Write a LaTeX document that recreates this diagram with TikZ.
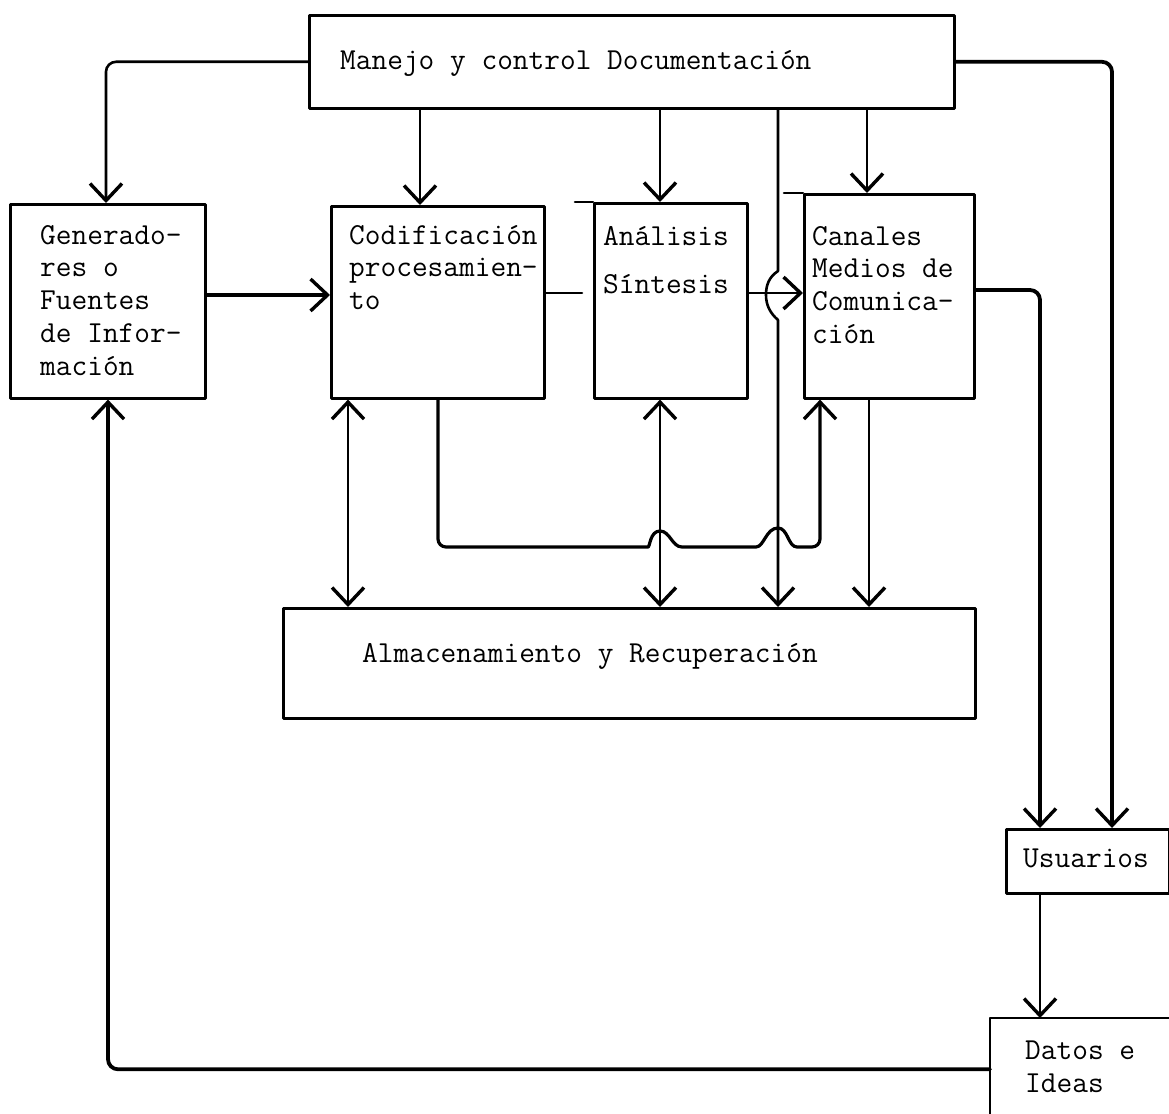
\documentclass[tikz,border=0pt]{standalone}
\usepackage{fontspec}
\usetikzlibrary{arrows.meta}
\begin{document}
\begin{tikzpicture}[x=1pt,y=-1pt,
  line cap=round, line join=round,
  box/.style={draw,line width=2.6pt,rectangle,inner sep=0pt,anchor=north west},
  lbl/.style={font=\ttfamily\fontsize{30.5}{32.8}\selectfont\addfontfeatures{FakeBold=1.4},anchor=base west,align=left,inner sep=0pt},
  ln/.style={line width=2.6pt},
  tk/.style={line width=3.8pt},
  barb/.tip={Straight Barb[length=17pt,width=32pt,line width=3.4pt]},
  arr/.style={-barb},
  darr/.style={barb-barb}]
\useasboundingbox (0,0) rectangle (1169,1113);

% helper coordinates
\foreach \x in {106,108,348,420,438,660,778,820,867,869,1040,1112}
  \coordinate (c\x) at (\x,0);
\foreach \y in {290,293,295}
  \coordinate (h\y) at (0,\y);

% boxes
\node[box,minimum width=645pt,minimum height=93pt]  (top) at (308,14) {};
\node[box,minimum width=195pt,minimum height=194pt] (gen) at (9,203) {};
\node[box,minimum width=213pt,minimum height=192pt] (cod) at (330,205) {};
\node[box,minimum width=153pt,minimum height=195pt] (ana) at (593,202) {};
\node[box,minimum width=170pt,minimum height=204pt] (can) at (803,193) {};
\node[box,minimum width=692pt,minimum height=110pt] (alm) at (282,607) {};
\node[box,minimum width=163pt,minimum height=64pt]  (usu) at (1005,828) {};
\node[box,draw=none,minimum width=200pt,minimum height=100pt] (dat) at (990,1018) {};
\draw[ln] (dat.north east) -- (dat.north west) -- (dat.south west);

% overshooting top bars
\draw[ln] (ana.north west) -- ++(-18,0);
\draw[ln] (can.north west) -- ++(-19,0);

% texts (base = baseline of the last line)
\node[lbl] (tTop) at (340,70) {Manejo y control Documentación};
\node[lbl] (tGen) at (40,375.2) {Generado-\\res o\\Fuentes\\de Infor-\\mación};
\node[lbl] (tCod) at (349,309.6) {Codificación\\procesamien-\\to};
\node[lbl] (tAna1) at (603,245) {Análisis};
\node[lbl] (tAna2) at (603,293) {Síntesis};
\node[lbl] (tCan) at (812,343.4) {Canales\\Medios de\\Comunica-\\ción};
\node[lbl] (tAlm) at (362,662) {Almacenamiento y Recuperación};
\node[lbl] (tUsu) at (1023,867) {Usuarios};
\node[lbl] (tDat) at (1025,1092) {Datos e\\Ideas};

% connectors from the top box
\draw[ln,arr,rounded corners=10pt] (top.west) -| (gen.north -| c106);
\draw[ln,arr] (top.south -| c420) -- (cod.north -| c420);
\draw[ln,arr] (top.south -| c660) -- (ana.north -| c660);
\draw[ln,arr] (top.south -| c867) -- (can.north -| c867);
\draw[ln,arr] (top.south -| c778) -- (778,271)
   .. controls (769,277) and (766,285) .. (766,295)
   .. controls (766,305) and (770,313) .. (778,320)
   -- (alm.north -| c778);
\draw[tk,arr,rounded corners=10pt] (top.east) -| (usu.north -| c1112);

% horizontal flow
\draw[tk,arr] (gen.east |- h295) -- (cod.west |- h295);
\draw[ln,shorten >=11pt] (cod.east |- h293) -- (ana.west |- h293);
\draw[ln,arr] (ana.east |- h293) -- (can.west |- h293);
\draw[tk,arr,rounded corners=10pt] (can.east |- h290) -| (usu.north -| c1040);
\draw[ln,arr] (usu.south -| c1040) -- (dat.north -| c1040);
\draw[tk,arr,rounded corners=10pt] (dat.west) -| (gen.south -| c108);

% links with storage
\draw[ln,darr] (cod.south -| c348) -- (alm.north -| c348);
\draw[ln,darr] (ana.south -| c660) -- (alm.north -| c660);
\draw[ln,arr] (can.south -| c869) -- (alm.north -| c869);

% lower path from Codificacion to Canales with hops
\draw[line width=3.2pt,arr] (cod.south -| c438) [rounded corners=8pt] -- (438,547) -- (640,547) [sharp corners]
   .. controls (650,547) and (650,531) .. (660,531)
   .. controls (670,531) and (672,547) .. (682,547)
   -- (756,547)
   .. controls (764,547) and (766,528) .. (778,528)
   .. controls (788,528) and (788,547) .. (797,547)
   [rounded corners=8pt] -- (820,547) -- (can.south -| c820);
\end{tikzpicture}
\end{document}
